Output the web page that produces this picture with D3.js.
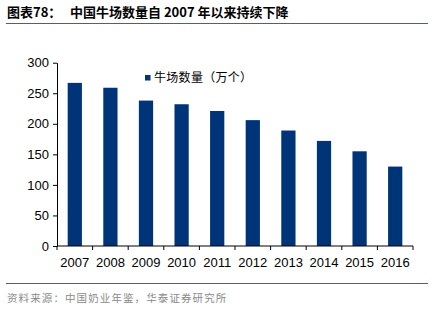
<!DOCTYPE html>
<html>
<head>
<meta charset="utf-8">
<script src="https://cdn.jsdelivr.net/npm/d3@7"></script>
<style>
body{margin:0;background:#fff;}
svg{display:block;}
</style>
</head>
<body>
<svg width="432" height="310"></svg>
<script>
var years = ["2007","2008","2009","2010","2011","2012","2013","2014","2015","2016"];
var farms = [267, 259, 238, 232, 221, 206, 189, 172, 155, 130]; // 万个
var yTicks = [0, 50, 100, 150, 200, 250, 300];
var seriesName = "牛场数量（万个）";

var svg = d3.select("svg");
var cjk = "'Noto Sans CJK SC', sans-serif";
var num = "'Liberation Sans', Arial, sans-serif";

// title
var t = svg.append("text").attr("x", 7).attr("y", 17)
  .style("font-family", cjk).style("font-weight", "bold").style("font-size", "13px").attr("fill", "#000");
t.append("tspan").text("图表78：");
t.append("tspan").attr("x", 70).text("中国牛场数量自 2007 年以来持续下降");
svg.append("line").attr("x1", 6).attr("x2", 428).attr("y1", 23.5).attr("y2", 23.5)
  .attr("stroke", "#e0281e").attr("stroke-width", 1);

var m = {left: 57, right: 413, top: 62.7, bottom: 246};
var x = d3.scaleBand().domain(years).range([m.left, m.right]).paddingInner(0.6).paddingOuter(0.3);
var y = d3.scaleLinear().domain([0, 300]).range([m.bottom, m.top]);

svg.selectAll("rect.bar").data(farms).enter().append("rect")
  .attr("class", "bar")
  .attr("x", function(d, i){ return x(years[i]); })
  .attr("width", x.bandwidth())
  .attr("y", function(d){ return y(d); })
  .attr("height", function(d){ return y(0) - y(d); })
  .attr("fill", "#003479");

// y axis
var ya = svg.append("g").attr("transform", "translate(" + m.left + ",0)")
  .call(d3.axisLeft(y).tickValues(yTicks).tickSize(4).tickSizeOuter(0).tickPadding(4));
ya.select(".domain").attr("stroke", "#000");
ya.selectAll("line").attr("stroke", "#000");
ya.selectAll("text").style("font-family", num).style("font-size", "13px").attr("fill", "#000");

// x axis with boundary ticks
var step = (m.right - m.left) / years.length;
var xa = svg.append("g").attr("transform", "translate(0," + m.bottom + ")");
xa.append("line").attr("x1", m.left).attr("x2", m.right).attr("stroke", "#000");
xa.selectAll("line.tk").data(d3.range(years.length + 1)).enter().append("line")
  .attr("class", "tk")
  .attr("x1", function(i){ return m.left + i * step; })
  .attr("x2", function(i){ return m.left + i * step; })
  .attr("y1", 0).attr("y2", 4).attr("stroke", "#000");
xa.selectAll("text").data(years).enter().append("text")
  .attr("x", function(d){ return x(d) + x.bandwidth() / 2; })
  .attr("y", 21).attr("text-anchor", "middle")
  .style("font-family", num).style("font-size", "13px").attr("fill", "#000")
  .text(function(d){ return d; });

// legend
svg.append("rect").attr("x", 145).attr("y", 75).attr("width", 5.5).attr("height", 5.5).attr("fill", "#003479");
svg.append("text").attr("x", 154).attr("y", 82).text(seriesName)
  .style("font-family", cjk).style("font-size", "12px").style("letter-spacing", "0.3px").attr("fill", "#000");

// footer
svg.append("line").attr("x1", 6).attr("x2", 428).attr("y1", 283.5).attr("y2", 283.5)
  .attr("stroke", "#e0281e").attr("stroke-width", 1);
svg.append("text").attr("x", 7).attr("y", 302).text("资料来源：中国奶业年鉴，华泰证券研究所")
  .style("font-family", cjk).style("font-size", "10.5px").style("letter-spacing", "1.1px").attr("fill", "#8a8a8a");
</script>
</body>
</html>
